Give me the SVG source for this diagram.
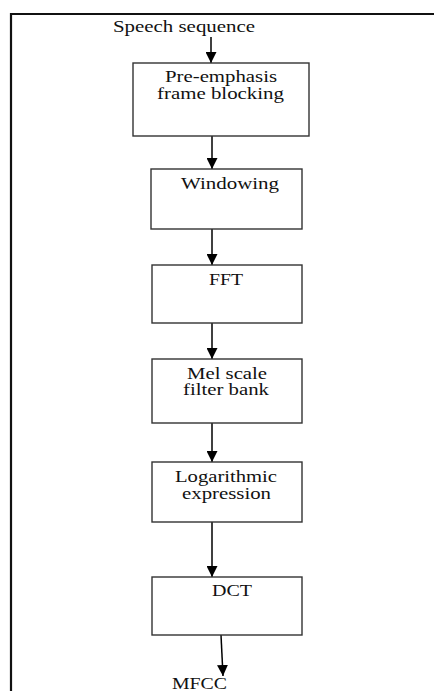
<svg xmlns="http://www.w3.org/2000/svg" width="434" height="691" viewBox="0 0 434 691">
<style>
.box{fill:#fff;stroke:#333;stroke-width:1.4}
.t{font-family:"Liberation Serif","Times New Roman",serif;font-size:16px;fill:#111}
.c{stroke:#000;stroke-width:1.5;fill:none;marker-end:url(#ah)}
</style>
<defs>
<marker id="ah" markerUnits="userSpaceOnUse" markerWidth="12" markerHeight="11" refX="11" refY="5.5" orient="auto">
<path d="M0,0 L11,5.5 L0,11 Z" fill="#000"/>
</marker>
</defs>
<rect width="434" height="691" fill="#fff"/>
<g id="frame">
<path d="M11,691 L11,14 L434,14" fill="none" stroke="#111" stroke-width="2.2"/>
</g>
<g id="connectors">
<line class="c" x1="211" y1="37" x2="211" y2="63"/>
<line class="c" x1="212" y1="136" x2="212" y2="169"/>
<line class="c" x1="212" y1="229" x2="212" y2="265"/>
<line class="c" x1="212" y1="323" x2="212" y2="359"/>
<line class="c" x1="212" y1="423" x2="212" y2="462"/>
<line class="c" x1="212" y1="522" x2="212" y2="577"/>
<line class="c" x1="221" y1="635" x2="223" y2="676"/>
</g>
<g id="input">
<text class="t" x="113" y="32" textLength="142" lengthAdjust="spacingAndGlyphs">Speech sequence</text>
</g>
<g id="n1">
<rect class="box" x="133" y="63" width="176" height="73"/>
<text class="t" x="165" y="82" textLength="112" lengthAdjust="spacingAndGlyphs">Pre-emphasis</text>
<text class="t" x="157" y="99" textLength="127" lengthAdjust="spacingAndGlyphs">frame blocking</text>
</g>
<g id="n2">
<rect class="box" x="151" y="169" width="151" height="60"/>
<text class="t" x="181" y="189" textLength="98" lengthAdjust="spacingAndGlyphs">Windowing</text>
</g>
<g id="n3">
<rect class="box" x="152" y="265" width="150" height="58"/>
<text class="t" x="209" y="285" textLength="34" lengthAdjust="spacingAndGlyphs">FFT</text>
</g>
<g id="n4">
<rect class="box" x="152" y="359" width="150" height="64"/>
<text class="t" x="187" y="379" textLength="80" lengthAdjust="spacingAndGlyphs">Mel scale</text>
<text class="t" x="183" y="395" textLength="86" lengthAdjust="spacingAndGlyphs">filter bank</text>
</g>
<g id="n5">
<rect class="box" x="152" y="462" width="150" height="60"/>
<text class="t" x="175" y="482" textLength="102" lengthAdjust="spacingAndGlyphs">Logarithmic</text>
<text class="t" x="182" y="499" textLength="89" lengthAdjust="spacingAndGlyphs">expression</text>
</g>
<g id="n6">
<rect class="box" x="152" y="577" width="150" height="58"/>
<text class="t" x="212" y="596" textLength="40" lengthAdjust="spacingAndGlyphs">DCT</text>
</g>
<g id="output">
<text class="t" x="172" y="689" textLength="55" lengthAdjust="spacingAndGlyphs">MFCC</text>
</g>
</svg>
